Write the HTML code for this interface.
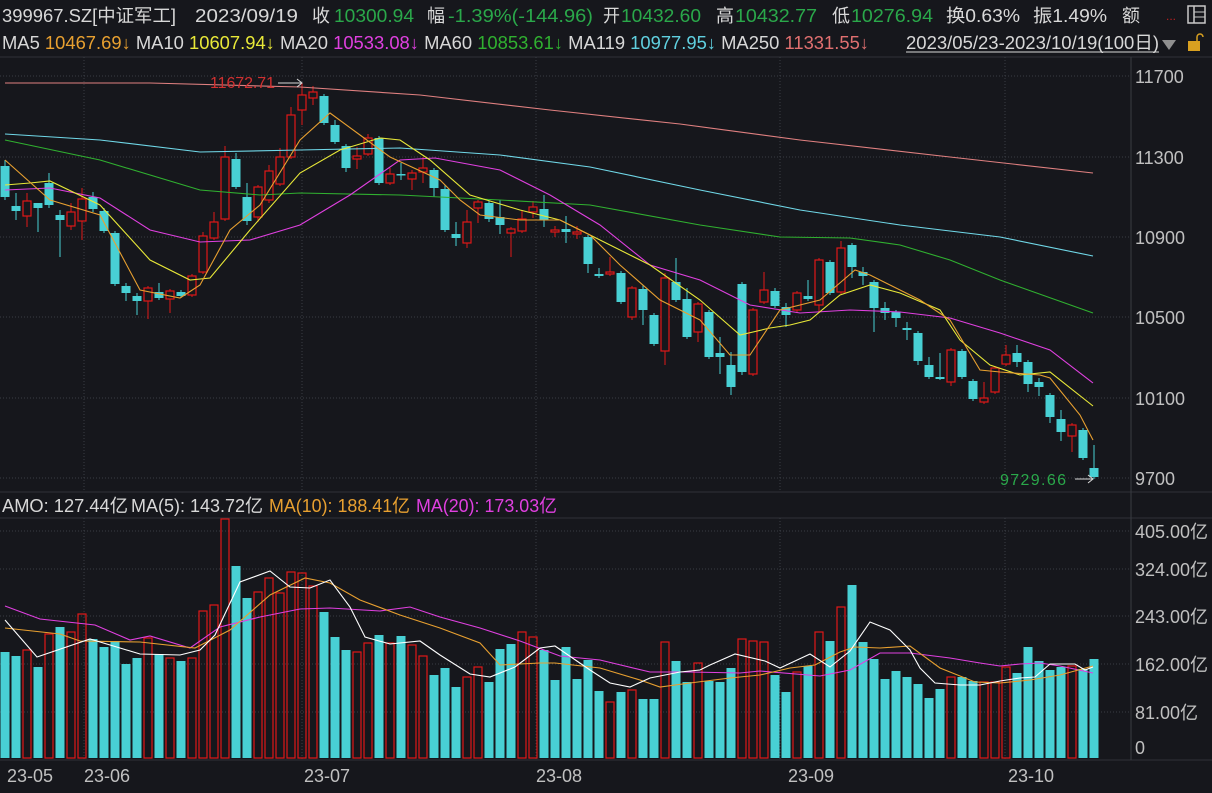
<!DOCTYPE html>
<html><head><meta charset="utf-8"><style>
html,body{margin:0;padding:0;background:#16171c;width:1212px;height:793px;overflow:hidden}
svg{display:block}
text{font-family:"Liberation Sans","Noto Sans CJK SC",sans-serif}
</style></head><body>
<svg id="s" width="1212" height="793" xmlns="http://www.w3.org/2000/svg">
<rect width="1212" height="793" fill="#16171c"/>
<g font-size="18" id="hdr"></g>
<text x="2" y="49" font-size="18" fill="#d8d8d8" textLength="867" lengthAdjust="spacingAndGlyphs">MA5 <tspan fill="#e8a030">10467.69↓</tspan> MA10 <tspan fill="#e8e838">10607.94↓</tspan> MA20 <tspan fill="#e040e0">10533.08↓</tspan> MA60 <tspan fill="#30b030">10853.61↓</tspan> MA119 <tspan fill="#60d0e0">10977.95↓</tspan> MA250 <tspan fill="#e07070">11331.55↓</tspan></text>
<text x="1166" y="20" fill="#c02020" font-size="12">...</text>
<rect x="1188" y="6" width="17" height="17" fill="none" stroke="#c8c8c8" stroke-width="1.5"/><line x1="1194" y1="6" x2="1194" y2="23" stroke="#c8c8c8" stroke-width="1.5"/><line x1="1194" y1="12" x2="1205" y2="12" stroke="#c8c8c8"/><line x1="1194" y1="17" x2="1205" y2="17" stroke="#c8c8c8"/>
<line x1="906" y1="52" x2="1159" y2="52" stroke="#d8d8d8"/>
<polygon points="1162,40 1176,40 1169,50" fill="#909090"/>
<rect x="1188" y="41" width="12" height="10" fill="#d8a020"/><path d="M1197 41 v-4 a3 3 0 0 1 6 0" fill="none" stroke="#d8a020" stroke-width="1.5"/>
<line x1="0" y1="57" x2="1212" y2="57" stroke="#303238"/>
<line x1="0" y1="492" x2="1212" y2="492" stroke="#303238"/>
<line x1="0" y1="518" x2="1212" y2="518" stroke="#303238"/>
<line x1="0" y1="760" x2="1212" y2="760" stroke="#303238"/>
<line x1="1131" y1="57" x2="1131" y2="760" stroke="#3a3c42"/>
<g id="grid" stroke="#3a3d44" stroke-dasharray="1,2"></g>
<g id="lab" font-size="18" fill="#c0c0c0"></g>
<g id="c"></g>
<g id="l" fill="none" stroke-width="1.1"></g>
<text x="210" y="88" font-size="16" fill="#d03030" textLength="65">11672.71</text>
<line x1="278" y1="83" x2="302" y2="83" stroke="#d8d8d8"/><polyline points="297,79 302,83 297,87" fill="none" stroke="#d8d8d8"/>
<text x="1000" y="485" font-size="16" fill="#2aa84a" textLength="66">9729.66</text>
<line x1="1075" y1="479" x2="1093" y2="479" stroke="#d8d8d8"/><polyline points="1088,475 1093,479 1088,483" fill="none" stroke="#d8d8d8"/>
</svg>
<script>
const NS="http://www.w3.org/2000/svg";
function el(p,t,a){const e=document.createElementNS(NS,t);for(const k in a)e.setAttribute(k,a[k]);document.getElementById(p).appendChild(e);return e;}
function tx(p,s,x1,x2,y,col,sz){const a={x:x1,y:y,fill:col,textLength:x2-x1,lengthAdjust:'spacingAndGlyphs'};if(sz)a['font-size']=sz;const t=el(p,'text',a);t.textContent=s;return t;}
const W="#d8d8d8",G="#2aa84a";
[["399967.SZ[中证军工]",2,176,W],["2023/09/19",195,298,W],["收",312,330,W],["10300.94",334,414,G],["幅",427,445,W],["-1.39%(-144.96)",448,593,G],
["开",603,620,W],["10432.60",621,701,G],["高",716,734,W],["10432.77",735,817,G],["低",832,850,W],["10276.94",851,933,G],["换0.63%",946,1020,W],["振1.49%",1033,1107,W],["额",1122,1140,W]]
.forEach(a=>tx('hdr',a[0],a[1],a[2],22,a[3]));
tx('hdr',"2023/05/23-2023/10/19(100日)",906,1159,49,W);
[["AMO: 127.44亿",2,128,W],["MA(5): 143.72亿",131,263,W],["MA(10): 188.41亿",269,410,"#e8a030"],["MA(20): 173.03亿",416,557,"#e040e0"]].forEach(a=>tx('hdr',a[0],a[1],a[2],512,a[3]));
[76,157,237,317,398,478].forEach(y=>el('grid','line',{x1:0,y1:y,x2:1131,y2:y}));
[531,569,616,664,712].forEach(y=>el('grid','line',{x1:0,y1:y,x2:1131,y2:y}));
[84,302,536,780,1005].forEach(x=>{el('grid','line',{x1:x,y1:57,x2:x,y2:492});el('grid','line',{x1:x,y1:518,x2:x,y2:760});});
[[11700,76],[11300,157],[10900,237],[10500,317],[10100,398],[9700,478]].forEach(a=>{const t=el('lab','text',{x:1135,y:a[1]+7});t.textContent=a[0];});
[["405.00亿",531],["324.00亿",569],["243.00亿",616],["162.00亿",664],["81.00亿",712],["0",747]].forEach(a=>{const t=el('lab','text',{x:1135,y:a[1]+7});t.textContent=a[0];});
[["23-05",7],["23-06",84],["23-07",304],["23-08",536],["23-09",788],["23-10",1008]].forEach(a=>{const t=el('lab','text',{x:a[1],y:782});t.textContent=a[0];});
const C=[
['c',166,197,160,200],['c',206,211,193,220],['r',201,216,193,227],['c',203,208,203,232],['c',183,205,173,208],
['c',215,220,210,257],['r',212,226,203,230],['r',199,221,188,240],['c',197,209,192,212],['c',211,231,208,233],
['c',233,284,231,286],['c',286,293,283,301],['c',296,301,293,315],['r',288,301,286,319],['c',292,298,283,300],
['r',291,299,289,313],['c',292,296,290,298],['r',276,295,274,297],['r',236,272,232,274],['r',222,238,212,240],
['r',157,219,146,221],['c',159,187,153,189],['c',197,221,183,225],['r',187,217,185,222],['r',171,200,165,203],
['r',157,184,148,186],['r',115,157,107,159],['r',95,110,83,125],['r',92,98,86,105],['c',96,123,94,125],
['c',125,142,120,144],['c',146,168,144,172],['r',156,159,147,169],['r',138,154,134,156],['c',138,183,136,185],
['r',174,183,168,185],['c',174,175,163,180],['r',173,179,170,190],['r',168,172,157,183],['c',170,188,168,197],
['c',189,230,185,232],['c',234,238,222,246],['r',222,243,210,248],['r',202,208,200,223],['c',203,219,201,222],
['c',217,225,200,234],['r',229,233,227,257],['r',219,231,210,233],['r',207,212,201,218],['c',209,220,195,227],
['r',230,232,226,237],['c',229,232,216,243],['r',232,234,226,239],['c',237,264,235,273],['c',274,276,268,278],
['r',272,274,257,276],['c',273,302,271,304],['r',288,317,286,320],['c',289,310,285,325],['c',315,344,313,346],
['r',278,351,273,365],['c',282,300,258,302],['c',299,337,288,339],['r',304,332,302,342],['c',312,357,310,359],
['c',353,357,337,374],['c',365,387,352,395],['c',284,372,282,375],['r',310,374,308,376],['r',290,302,272,304],
['c',291,306,288,308],['c',307,315,303,327],['r',293,310,291,312],['c',296,299,280,301],['r',260,305,258,313],
['c',262,293,260,295],['r',248,292,241,294],['c',245,267,243,278],['c',272,276,267,285],['c',282,308,280,332],
['c',308,313,302,320],['c',312,318,310,327],['c',328,330,322,340],['c',333,361,331,365],['c',365,377,357,379],
['c',377,379,353,380],['r',350,382,348,386],['c',351,377,349,379],['c',381,399,379,401],['r',398,402,382,404],
['r',368,392,366,394],['r',355,364,345,366],['c',353,362,345,367],['c',362,384,360,392],['c',382,387,378,396],
['c',395,417,393,423],['c',419,432,410,441],['r',425,436,423,452],['c',430,458,428,460],['c',468,477,445,479]];
const V=[652,656,650,667,634,627,632,614,639,647,641,664,658,638,654,658,661,658,611,605,519,566,598,592,578,593,572,573,586,612,
637,650,652,643,635,643,636,645,656,675,668,687,677,667,682,649,644,632,637,650,680,647,679,660,691,702,692,690,699,699,
642,661,682,663,681,682,668,639,641,642,675,692,672,666,632,641,607,585,642,659,679,671,677,684,698,689,677,677,681,682,
682,667,673,647,661,670,667,666,669,659];
const VR=new Set([2,4,6,7,13,15,17,18,19,20,23,24,25,26,27,28,32,33,35,37,38,42,43,47,48,55,57,60,63,67,68,69,72,74,76,86,89,90,91,97]);
const CY="#48d0d4",RD="#e01818";
C.forEach((c,i)=>{const x=5+11*i;const col=c[0]=='r'?RD:CY;
 el('c','line',{x1:x,y1:c[3],x2:x,y2:c[4],stroke:col,'stroke-width':1});
 const h=Math.max(1.5,c[2]-c[1]);
 if(c[0]=='r') el('c','rect',{x:x-4,y:c[1],width:8,height:h,fill:'#16171c',stroke:col,'stroke-width':1.2});
 else el('c','rect',{x:x-4.5,y:c[1],width:9,height:h,fill:col});
});
V.forEach((v,i)=>{const x=5+11*i;
 if(VR.has(i)) el('c','rect',{x:x-4,y:v,width:8,height:758-v,fill:'none',stroke:RD,'stroke-width':1.2});
 else el('c','rect',{x:x-4.5,y:v,width:9,height:758-v,fill:CY});
});
function pl(pts,col){el('l','polyline',{points:pts.map(p=>p.join(',')).join(' '),stroke:col});}
pl([[5,83],[150,83],[300,87],[420,95],[550,110],[680,124],[800,140],[950,157],[1093,173]],"#e08080");
pl([[5,134],[100,140],[200,152],[300,150],[400,148],[500,155],[590,167],[700,190],[800,210],[900,225],[1000,237],[1093,256]],"#70d8e8");
pl([[5,140],[100,160],[200,190],[260,195],[300,193],[400,195],[500,200],[590,205],[700,225],[780,237],[850,238],[900,245],[950,260],[1000,280],[1093,313]],"#30b030");
pl([[5,190],[50,188],[100,198],[150,230],[200,242],[250,240],[300,225],[350,195],[400,160],[435,158],[500,170],[550,195],[600,225],[650,265],[700,280],[750,305],[800,313],[850,310],[900,312],[950,318],[1000,333],[1050,350],[1093,383]],"#e040e0");
pl([[5,185],[30,183],[50,181],[100,205],[150,260],[190,280],[210,278],[250,230],[300,173],[340,150],[380,138],[400,140],[430,160],[470,195],[520,210],[560,220],[600,240],[650,265],[700,300],[740,335],[770,328],[790,325],[810,320],[840,295],[870,285],[900,293],[940,310],[960,340],[990,365],[1020,375],[1050,372],[1093,406]],"#e8e838");
pl([[5,160],[50,200],[100,215],[140,290],[180,298],[200,285],[230,230],[260,205],[300,140],[330,113],[360,135],[390,157],[440,180],[460,200],[480,215],[520,220],[560,220],[590,235],[620,265],[660,300],[700,320],[730,355],[750,355],[780,310],[820,300],[855,270],[870,275],[900,290],[920,300],[950,320],[980,370],[1000,372],[1040,375],[1050,378],[1080,415],[1093,440]],"#e8a030");
pl([[5,606],[40,619],[95,625],[130,640],[150,636],[190,648],[220,627],[260,617],[300,609],[330,608],[380,611],[410,607],[440,617],[480,628],[520,641],[560,656],[600,660],[650,672],[690,672],[740,673],[760,671],[820,676],[850,670],[880,653],[910,653],[950,658],[980,663],[1000,666],[1020,664],[1040,663],[1060,666],[1093,673]],"#e040e0");
pl([[5,628],[60,634],[80,641],[140,642],[195,648],[230,630],[270,595],[305,578],[330,583],[360,600],[400,615],[440,628],[480,643],[500,665],[540,663],[555,663],[600,668],[640,680],[660,687],[690,683],[730,678],[760,675],[790,668],[815,665],[840,652],[855,647],[880,648],[910,646],[940,668],[975,682],[1000,683],[1030,680],[1060,675],[1093,666]],"#e8a030");
pl([[5,620],[37,657],[90,639],[120,648],[140,654],[180,655],[200,650],[215,635],[240,582],[270,571],[290,587],[310,588],[330,580],[350,607],[365,637],[390,644],[420,641],[440,655],[470,674],[490,677],[515,667],[540,648],[555,646],[590,670],[610,683],[630,687],[650,678],[680,672],[700,670],[710,665],[735,654],[765,661],[780,668],[810,654],[830,667],[850,651],[870,622],[890,630],[910,650],[920,668],[935,683],[960,685],[980,685],[1000,681],[1020,678],[1035,677],[1050,664],[1075,664],[1085,670],[1093,667]],"#ffffff");
</script>
</body></html>
